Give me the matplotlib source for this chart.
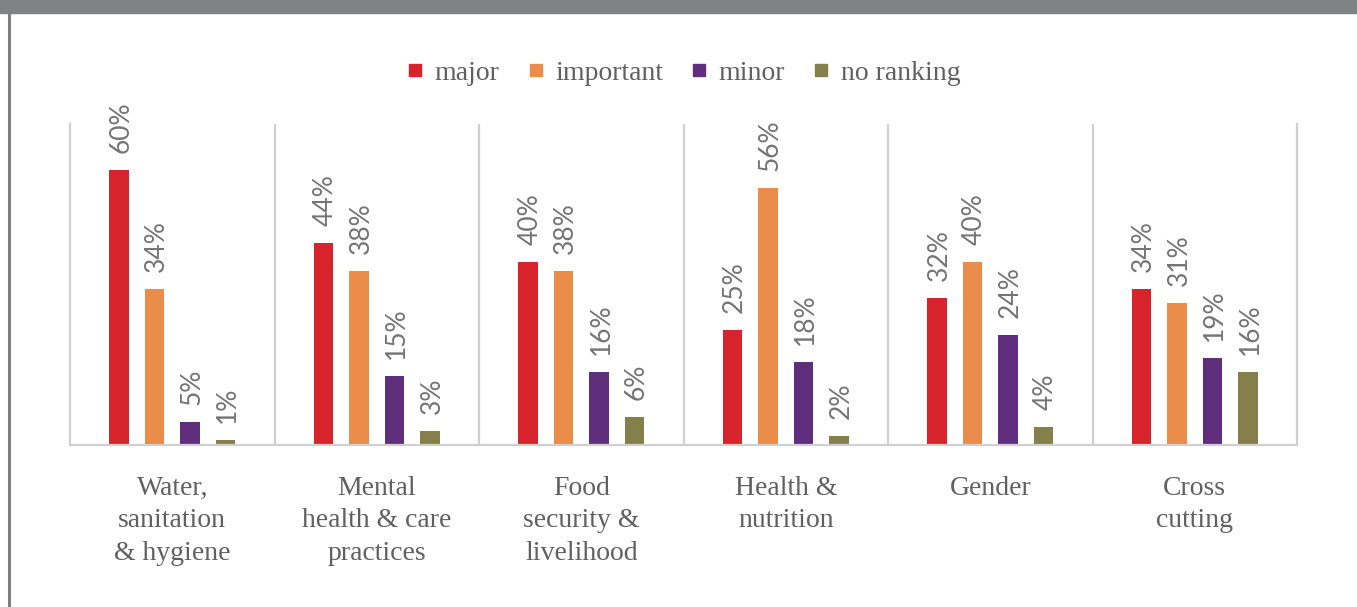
import numpy as np
import matplotlib
matplotlib.use("Agg")
import matplotlib.pyplot as plt
from matplotlib.lines import Line2D

# data
categories = ["Water,\nsanitation\n& hygiene",
              "Mental\nhealth & care\npractices",
              "Food\nsecurity &\nlivelihood",
              "Health &\nnutrition",
              "Gender",
              "Cross\ncutting"]
series_names = ["major", "important", "minor", "no ranking"]
major = [60, 44, 40, 25, 32, 34]
important = [34, 38, 38, 56, 40, 31]
minor = [5, 15, 16, 18, 24, 19]
no_ranking = [1, 3, 6, 2, 4, 16]

colors = ["#d7232b", "#ea8c4a", "#5f2f7e", "#857f4b"]
label_grey = "#747474"
text_grey = "#606060"
axis_grey = "#d0d0d0"

W, H = 1357, 607
fig = plt.figure(figsize=(W / 100, H / 100), dpi=100)

# header band and left frame line
fig.patches.append(plt.Rectangle((0, 1 - 13 / H), 1, 13 / H, transform=fig.transFigure,
                                 color="#808286", zorder=0))
fig.add_artist(Line2D([9 / W, 9 / W], [0, 1 - 13 / H], transform=fig.transFigure,
                      color="#7f7f7f", lw=2.2))

ax = fig.add_axes([70 / W, 1 - 445 / H, (1297 - 70) / W, (445 - 124) / H])

all_series = [major, important, minor, no_ranking]
x = np.arange(len(categories))
step = 0.1736
width = 0.093

for i, (vals, col) in enumerate(zip(all_series, colors)):
    offs = (i - 1.5) * step
    ax.bar(x + offs, np.array(vals) / 100, width=width, color=col, zorder=2)
    for xi, v in zip(x, vals):
        ax.annotate(f"{v}%", (xi + offs, v / 100), xytext=(2, 17),
                    textcoords="offset pixels", rotation=90, ha="center",
                    va="bottom", fontsize=19, color=label_grey, family="Lato")

ax.set_xlim(-0.5, len(categories) - 0.5)
ax.set_ylim(0, 0.70)
ax.set_yticks([])
for b in np.arange(0.5, len(categories) - 0.5):
    ax.axvline(b, color=axis_grey, lw=1.6, zorder=1)
for side in ["left", "right", "bottom"]:
    ax.spines[side].set_color(axis_grey)
    ax.spines[side].set_linewidth(1.6)
ax.spines["top"].set_visible(False)

ax.set_xticks(x)
ax.set_xticklabels(categories, fontsize=20, color=text_grey, family="Liberation Serif",
                   linespacing=1.4)
ax.tick_params(axis="x", length=0, pad=22)

handles = [Line2D([], [], marker="s", linestyle="none", markersize=8.6,
                  markerfacecolor=c, markeredgecolor=c) for c in colors]
fig.legend(handles, series_names, loc="center",
           bbox_to_anchor=((70 + 1297) / 2 / W, 1 - 73 / H),
           ncol=4, frameon=False, handletextpad=0.4, columnspacing=1.0,
           handlelength=0.6, prop={"family": "Liberation Serif", "size": 20},
           labelcolor=text_grey)

fig.savefig("out.png", dpi=100)
